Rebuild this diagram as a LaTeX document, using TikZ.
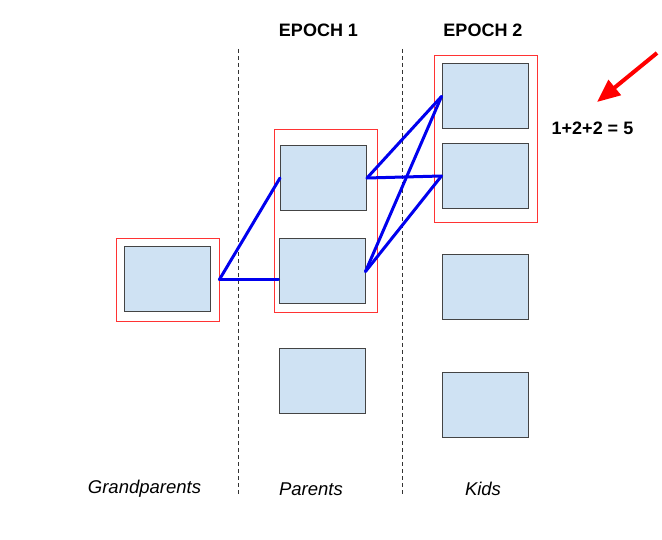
\documentclass[tikz,border=0pt]{standalone}
\usepackage{fontspec}
\setmainfont{Liberation Sans}
\usetikzlibrary{arrows.meta}
\definecolor{boxfill}{HTML}{CFE2F3}
\definecolor{boxline}{HTML}{444444}
\definecolor{grpred}{HTML}{FF3333}
\definecolor{linkblue}{HTML}{0000EE}
\begin{document}
\begin{tikzpicture}[x=1pt,y=-1pt,
  member/.style={draw=boxline,line width=1pt,fill=boxfill,minimum width=86pt,minimum height=65pt,inner sep=0pt},
  group/.style={draw=grpred,line width=0.9pt,inner sep=0pt},
  link/.style={draw=linkblue,line width=3pt,line cap=round,line join=round},
  divider/.style={draw=black!80,line width=0.8pt,dash pattern=on 4pt off 3pt},
  epoch/.style={font=\fontsize{18}{21}\selectfont\bfseries},
  gen/.style={font=\fontsize{18.5}{21}\selectfont\itshape}
]
\useasboundingbox (0,0) rectangle (662,540);
% dividers
\coordinate (d1t) at (238,49);
\coordinate (d1b) at (238,495);
\coordinate (d2t) at (402,49);
\coordinate (d2b) at (402,495);
\draw[divider] (d1t) -- (d1b);
\draw[divider] (d2t) -- (d2b);
% group frames
\node[group,minimum width=103pt,minimum height=83pt] (gpr) at (167.5,279.5) {};
\node[group,minimum width=103pt,minimum height=183pt] (pr) at (325.5,220.5) {};
\node[group,minimum width=103pt,minimum height=167pt] (kr) at (485.5,138.5) {};
% members
\node[member] (gp) at (167,279.5) {};
\node[member] (p1) at (323.5,178) {};
\node[member] (p2) at (322,271.5) {};
\node[member] (p3) at (322,381) {};
\node[member] (k1) at (485,96.5) {};
\node[member] (k2) at (485,176) {};
\node[member] (k3) at (485,287.5) {};
\node[member] (k4) at (485,405) {};
% links
\draw[link] (gpr.east) -- (p1.west);
\draw[link] (gpr.east) -- (gpr.east -| p2.west);
\draw[link] (p1.east) -- (k1.west);
\draw[link] (p1.east) -- (k2.west);
\draw[link] (p2.east) -- (k1.west);
\draw[link] (p2.east) -- (k2.west);
% texts
\node[epoch] (e1) at (318.5,30) {EPOCH 1};
\node[epoch] (e2) at (483,30) {EPOCH 2};
\node[epoch] (sum) at (592.5,128) {1+2+2 = 5};
\node[gen] (lg) at (144.5,489) {Grandparents};
\node[gen] (lp) at (311,489) {Parents};
\node[gen] (lk) at (483,489) {Kids};
% red arrow
\coordinate (as) at (657,53);
\coordinate (ae) at (597,102);
\draw[draw=red,line width=4pt,-{Triangle[length=23pt,width=19pt]}] (as) -- (ae);
\end{tikzpicture}
\end{document}
